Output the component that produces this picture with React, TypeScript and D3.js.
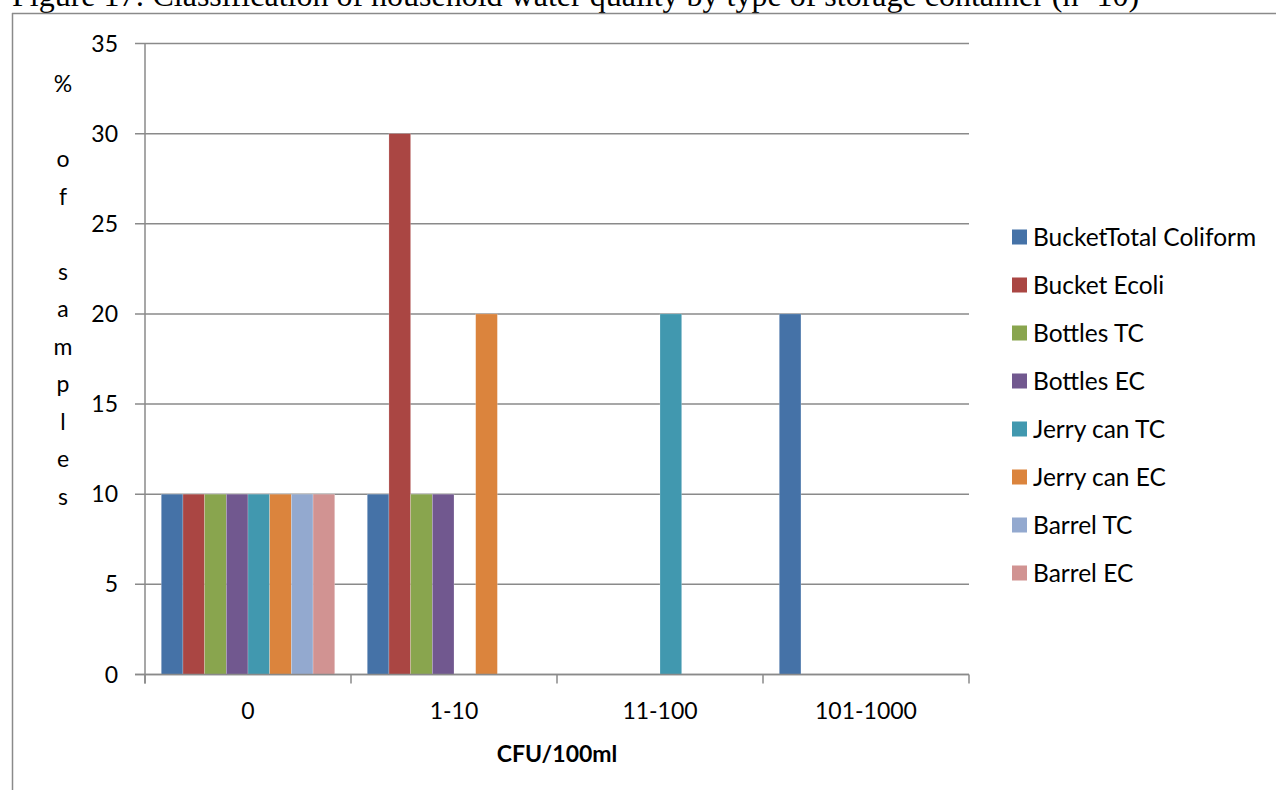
import React from "react";
import * as d3 from "d3";

const categories = ["0", "1-10", "11-100", "101-1000"];
const seriesNames = [
  "BucketTotal Coliform",
  "Bucket Ecoli",
  "Bottles TC",
  "Bottles EC",
  "Jerry can TC",
  "Jerry can EC",
  "Barrel TC",
  "Barrel EC",
];
// one array per series, one value per CFU category
const bucketTC = [10, 10, 0, 20];
const bucketEcoli = [10, 30, 0, 0];
const bottlesTC = [10, 10, 0, 0];
const bottlesEC = [10, 10, 0, 0];
const jerryTC = [10, 0, 20, 0];
const jerryEC = [10, 20, 0, 0];
const barrelTC = [10, 0, 0, 0];
const barrelEC = [10, 0, 0, 0];
const seriesValues = [bucketTC, bucketEcoli, bottlesTC, bottlesEC, jerryTC, jerryEC, barrelTC, barrelEC];
const colors = ["#4572A7", "#AA4643", "#89A54E", "#71588F", "#4198AF", "#DB843D", "#93A9CF", "#D19392"];
const yTicks = [0, 5, 10, 15, 20, 25, 30, 35];
const yTitle = "% of samples";
const xTitle = "CFU/100ml";
const figTitle = "Figure 17: Classification of household water quality by type of storage container (n=10)";

const W = 1276;
const H = 790;
const plot = { left: 145, right: 969, top: 43.5, bottom: 674.5 };
const font = "Lato, Carlito, Calibri, sans-serif";
const grid = "#8a8a8a";

export default function App() {
  const x0 = d3.scaleBand().domain(categories).range([plot.left, plot.right]).paddingInner(0).paddingOuter(0);
  const x1 = d3.scaleBand().domain(seriesNames).range([0, x0.bandwidth()]).paddingInner(0).paddingOuter(0.75);
  const y = d3.scaleLinear().domain([0, 35]).range([plot.bottom, plot.top]);

  const titleChars = Array.from(yTitle);
  const lineH = 37.5;

  return (
    <svg width={W} height={H} style={{ position: "absolute", left: 0, top: 0, background: "#fff" }}>
      <rect x={0} y={0} width={W} height={H} fill="#fff" />
      <text x={12} y={6} fontFamily="'Liberation Serif', 'Times New Roman', serif" fontSize={32} fill="#000">
        {figTitle}
      </text>
      {/* chart frame */}
      <line x1={12} x2={W + 2} y1={13.5} y2={13.5} stroke={grid} strokeWidth={1.5} />
      <line x1={12.5} x2={12.5} y1={13} y2={H + 2} stroke={grid} strokeWidth={1.5} />

      {/* gridlines and y ticks */}
      {yTicks.map((t) => (
        <g key={t}>
          <line x1={plot.left - 10} x2={plot.right} y1={y(t)} y2={y(t)} stroke={grid} strokeWidth={1.5} />
          <text x={118} y={y(t)} dy="0.35em" textAnchor="end" fontFamily={font} fontSize={23} fill="#000">
            {t}
          </text>
        </g>
      ))}
      {/* y axis */}
      <line x1={plot.left} x2={plot.left} y1={plot.top} y2={plot.bottom + 9} stroke={grid} strokeWidth={1.5} />
      {/* category ticks */}
      {[...categories.map((c) => x0(c) as number), plot.right].map((xv, i) => (
        <line key={i} x1={xv} x2={xv} y1={plot.bottom} y2={plot.bottom + 9} stroke={grid} strokeWidth={1.5} />
      ))}

      {/* bars */}
      {seriesNames.map((s, si) => (
        <g key={s} fill={colors[si]}>
          {categories.map((c, ci) => {
            const v = seriesValues[si][ci];
            if (!v) return null;
            return (
              <rect
                key={c}
                x={(x0(c) as number) + (x1(s) as number)}
                y={y(v)}
                width={x1.bandwidth()}
                height={y(0) - y(v)}
                stroke="#ffffff"
                strokeOpacity={0.35}
                strokeWidth={0.6}
              />
            );
          })}
        </g>
      ))}
      {/* x axis line on top of bars */}
      <line x1={plot.left - 10} x2={plot.right} y1={plot.bottom} y2={plot.bottom} stroke={grid} strokeWidth={1.5} />

      {/* category labels */}
      {categories.map((c) => (
        <text key={c} x={(x0(c) as number) + x0.bandwidth() / 2} y={719} textAnchor="middle" fontFamily={font} fontSize={23} fill="#000">
          {c}
        </text>
      ))}
      <text x={(plot.left + plot.right) / 2} y={762} textAnchor="middle" fontFamily={font} fontSize={23} fontWeight="bold" fill="#000">
        {xTitle}
      </text>

      {/* stacked vertical axis title */}
      {titleChars.map((ch, i) =>
        ch === " " ? null : (
          <text key={i} x={63} y={92 + i * lineH} textAnchor="middle" fontFamily={font} fontSize={23} fill="#000">
            {ch}
          </text>
        )
      )}

      {/* legend */}
      {seriesNames.map((s, i) => {
        const cy = 237 + i * 48;
        return (
          <g key={s}>
            <rect x={1012} y={cy - 7.5} width={15} height={15} fill={colors[i]} />
            <text x={1033} y={cy} dy="0.35em" fontFamily={font} fontSize={24.5} fill="#000">
              {s}
            </text>
          </g>
        );
      })}
    </svg>
  );
}
